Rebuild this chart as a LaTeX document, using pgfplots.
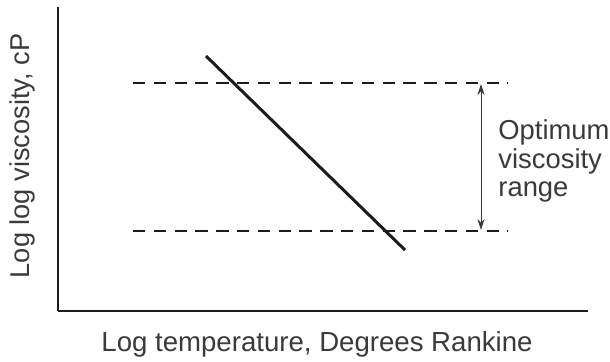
\documentclass[border=0pt]{standalone}
\usepackage{fontspec}
\setmainfont{Liberation Sans}
\usepackage{pgfplots}
\pgfplotsset{compat=1.18}
\usetikzlibrary{arrows.meta}
\definecolor{txt}{HTML}{3A3A3A}
\definecolor{ink}{HTML}{1C1C1C}
\begin{document}
\begin{tikzpicture}
\useasboundingbox (0,0) rectangle (305pt,180.5pt);
\begin{axis}[
  at={(29pt,25pt)}, anchor=south west,
  scale only axis,
  width=265pt, height=152pt,
  xmin=58, xmax=588, ymin=50, ymax=354,
  axis x line=bottom, axis y line=left,
  axis line style={-, line width=1.2pt, color=ink},
  xtick=\empty, ytick=\empty,
  clip=false,
  font=\fontsize{13.7pt}{14.2pt}\selectfont,
]
% optimum range limits (dashed)
\addplot[color=ink, line width=0.65pt, dash pattern=on 6.2pt off 4.2pt] coordinates {(133,278) (508,278)};
\addplot[color=ink, line width=0.65pt, dash pattern=on 6.2pt off 4.2pt] coordinates {(133,130) (508,130)};
% viscosity-temperature line
\addplot[color=ink, line width=1.5pt] coordinates {(206,305) (405,111)};
% double arrow
\addplot[color=txt, line width=0.5pt, {Stealth[length=5.5pt,width=3.6pt]}-{Stealth[length=5.5pt,width=3.6pt]}] coordinates {(481,277) (481,131)};
\node[anchor=west, align=left, inner sep=0pt, text=txt, font=\fontsize{13.7pt}{14.2pt}\selectfont] at (axis cs:498,200) {Optimum\\viscosity\\range};
\node[anchor=center, inner sep=0pt, text=txt, font=\fontsize{13.8pt}{14.2pt}\selectfont] at (axis cs:317,17) {Log temperature, Degrees Rankine};
\node[anchor=center, rotate=90, inner sep=0pt, text=txt, font=\fontsize{13.6pt}{14.2pt}\selectfont] at (axis cs:22,205) {Log log viscosity, cP};
\end{axis}
\end{tikzpicture}
\end{document}
